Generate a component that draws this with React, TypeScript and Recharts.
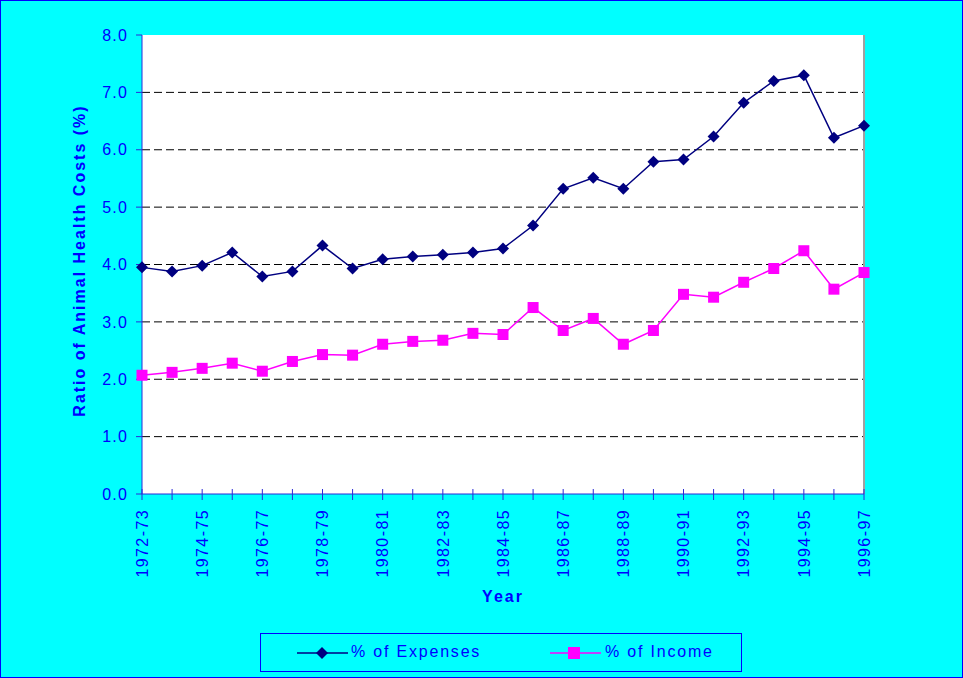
import React from "react"
import { LineChart, Line, XAxis, YAxis, CartesianGrid, ReferenceLine } from "recharts"

const years = [
  "1972-73", "1973-74", "1974-75", "1975-76", "1976-77", "1977-78", "1978-79",
  "1979-80", "1980-81", "1981-82", "1982-83", "1983-84", "1984-85", "1985-86",
  "1986-87", "1987-88", "1988-89", "1989-90", "1990-91", "1991-92", "1992-93",
  "1993-94", "1994-95", "1995-96", "1996-97",
]
const expenses = [
  3.95, 3.88, 3.98, 4.21, 3.79, 3.88, 4.33, 3.93, 4.09, 4.14, 4.17, 4.21, 4.28,
  4.68, 5.32, 5.51, 5.32, 5.79, 5.83, 6.23, 6.82, 7.2, 7.3, 6.21, 6.42,
]
const income = [
  2.07, 2.12, 2.19, 2.28, 2.14, 2.31, 2.43, 2.42, 2.61, 2.66, 2.68, 2.8, 2.78,
  3.25, 2.85, 3.06, 2.61, 2.85, 3.48, 3.43, 3.69, 3.93, 4.24, 3.57, 3.86,
]
const yTicks = [0, 1, 2, 3, 4, 5, 6, 7, 8]
const gridValues = [1, 2, 3, 4, 5, 6, 7]

const data = years.map((year, i) => ({ year, expenses: expenses[i], income: income[i] }))

const FONT = "'Liberation Sans', Arial, sans-serif"
const BLUE = "#0000ff"
const AXIS = "#2a2ad8"
const NAVY = "#000080"
const MAGENTA = "#ff00ff"

const Diamond = (props: any) => {
  const { cx, cy } = props
  if (cx == null || cy == null) return null
  const r = 6
  return <path d={`M${cx},${cy - r}L${cx + r},${cy}L${cx},${cy + r}L${cx - r},${cy}Z`} fill={NAVY} />
}

const Square = (props: any) => {
  const { cx, cy } = props
  if (cx == null || cy == null) return null
  return <rect x={cx - 5.5} y={cy - 5.5} width={11} height={11} fill={MAGENTA} />
}

const YearTick = (props: any) => {
  const { x, y, payload, index } = props
  return (
    <g>
      <line x1={x} y1={y - 5} x2={x} y2={y + 6} stroke={AXIS} strokeWidth={1} />
      {index % 2 === 0 && (
        <text x={x} y={y + 15} transform={`rotate(-90 ${x} ${y + 15})`} textAnchor="end" dy="0.36em"
          fill={BLUE} fontSize={16} fontFamily={FONT} letterSpacing={1.4}>
          {payload.value}
        </text>
      )}
    </g>
  )
}

export default function App() {
  return (
    <div style={{ position: "absolute", left: 0, top: 0, width: 961, height: 676, background: "#00ffff", border: "1px solid #0000ff" }}>
      <LineChart width={961} height={676} data={data} margin={{ top: 34, right: 98, left: 61, bottom: 93 }}>
        <CartesianGrid horizontal vertical={false} horizontalValues={gridValues} fill="#ffffff"
          stroke="#000000" strokeDasharray="8 4" />
        <ReferenceLine x="1996-97" stroke="#a0a0a0" strokeWidth={2} />
        <XAxis dataKey="year" interval={0} tickSize={0} tickMargin={0} height={90}
          axisLine={{ stroke: AXIS }} tickLine={false} tick={<YearTick />}
          label={{ value: "Year", position: "insideBottom", offset: 0, dy: 18, fill: BLUE, fontSize: 16,
            fontWeight: "bold", fontFamily: FONT, letterSpacing: 2 } as any} />
        <YAxis domain={[0, 8]} ticks={yTicks} width={80} tickSize={6} tickMargin={8}
          axisLine={{ stroke: AXIS }} tickLine={{ stroke: AXIS }}
          tickFormatter={(v) => v.toFixed(1)}
          tick={{ fill: BLUE, fontSize: 16, fontFamily: FONT, letterSpacing: 1.2 } as any}
          label={{
            content: (p: any) => {
              const vb = p.viewBox
              const cx = vb.x + 17
              const cy = vb.y + vb.height / 2 - 4
              return (
                <text x={cx} y={cy} transform={`rotate(-90 ${cx} ${cy})`} textAnchor="middle" dy="0.36em"
                  fill={BLUE} fontSize={16} fontWeight="bold" fontFamily={FONT} letterSpacing={2}>
                  Ratio of Animal Health Costs (%)
                </text>
              )
            },
          } as any} />
        <Line dataKey="expenses" stroke={NAVY} strokeWidth={1.5} dot={<Diamond />} isAnimationActive={false} />
        <Line dataKey="income" stroke={MAGENTA} strokeWidth={1.5} dot={<Square />} isAnimationActive={false} />
      </LineChart>
      <div style={{ position: "absolute", left: 259, top: 632, width: 480, height: 37, border: "1px solid #0000ff" }}>
        <svg width={480} height={37} style={{ position: "absolute", left: 0, top: 0 }}>
          <line x1={36} y1={19} x2={87} y2={19} stroke={NAVY} strokeWidth={1.5} />
          <path d="M61,13L67,19L61,25L55,19Z" fill={NAVY} />
          <line x1={289} y1={19} x2={340} y2={19} stroke={MAGENTA} strokeWidth={1.5} />
          <rect x={307} y={13} width={12} height={12} fill={MAGENTA} />
          <text x={90} y={17} dy="0.35em" fill={BLUE} fontSize={16} fontFamily={FONT} letterSpacing={1.8}>% of Expenses</text>
          <text x={344} y={17} dy="0.35em" fill={BLUE} fontSize={16} fontFamily={FONT} letterSpacing={1.8}>% of Income</text>
        </svg>
      </div>
    </div>
  )
}
